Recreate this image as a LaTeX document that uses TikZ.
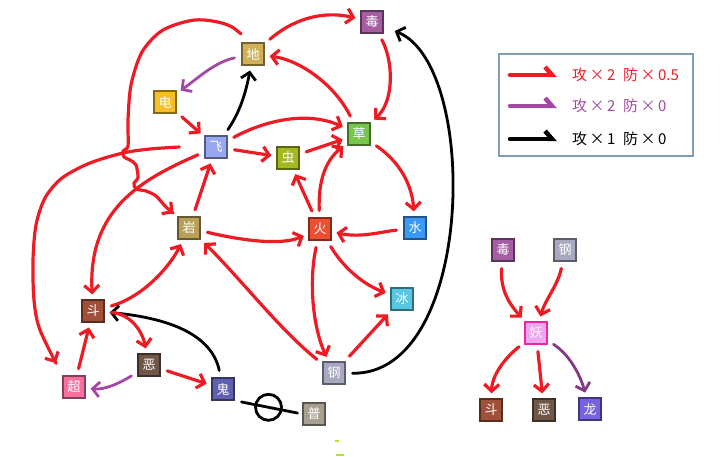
\documentclass[tikz,border=0pt]{standalone}
\usepackage{fontspec}
\newfontfamily\cjk{Noto Sans CJK SC}
\usetikzlibrary{arrows.meta}

\definecolor{hit}{HTML}{ED1C24}
\definecolor{nul}{HTML}{A349A4}
\definecolor{keyline}{HTML}{7F9DB9}
\definecolor{speck}{HTML}{B5E61D}
\definecolor{tPoison}{HTML}{A65EA3}
\definecolor{tGround}{HTML}{D1B158}
\definecolor{tElec}{HTML}{F7BE2C}
\definecolor{tFly}{HTML}{98A8F0}
\definecolor{tBug}{HTML}{A6B820}
\definecolor{tGrass}{HTML}{78C64C}
\definecolor{tRock}{HTML}{B8A058}
\definecolor{tFire}{HTML}{EE4F30}
\definecolor{tWater}{HTML}{3A99F7}
\definecolor{tIce}{HTML}{5AC7E0}
\definecolor{tSteel}{HTML}{A8A8C0}
\definecolor{tNormal}{HTML}{A8A090}
\definecolor{tFight}{HTML}{A05038}
\definecolor{tDark}{HTML}{705848}
\definecolor{tPsy}{HTML}{F8709F}
\definecolor{tGhost}{HTML}{6060B0}
\definecolor{tFairy}{HTML}{F0A6F0}
\definecolor{tDragon}{HTML}{7862E0}

\tikzset{
	kind/.style={draw=#1!55!black, fill=#1, line width=1.2pt, minimum size=22pt,
		inner sep=0pt, text=white, font=\cjk\fontsize{13}{13}\selectfont},
	strong/.style={draw=hit, line width=3.2pt, line cap=round, line join=round,
		-{Straight Barb[length=7pt,width=15pt]}, shorten <=7pt, shorten >=5pt},
	immune/.style={strong, draw=nul, line width=2.8pt},
	blank/.style={strong, draw=black, line width=2.8pt},
	keytext/.style={anchor=west, inner sep=0pt, font=\cjk\fontsize{15}{15}\selectfont},
}

\begin{document}
\begin{tikzpicture}[x=1pt,y=-1pt]
		\useasboundingbox (0,0) rectangle (725,457);
		% types
		\node[kind=tPoison] (du) at (372,22) {毒};
		\node[kind=tGround] (di) at (253,54) {地};
		\node[kind=tElec] (dian) at (165,102) {电};
		\node[kind=tFly] (fei) at (216,147) {飞};
		\node[kind=tBug] (chong) at (288,158) {虫};
		\node[kind=tGrass] (cao) at (359,134) {草};
		\node[kind=tRock] (yan) at (189,228) {岩};
		\node[kind=tFire] (huo) at (320,229) {火};
		\node[kind=tWater] (shui) at (415,228) {水};
		\node[kind=tIce] (bing) at (402,299) {冰};
		\node[kind=tSteel] (gang) at (334,373) {钢};
		\node[kind=tNormal] (pu) at (314,414) {普};
		\node[kind=tFight] (dou) at (93,311) {斗};
		\node[kind=tDark] (e) at (149,365) {恶};
		\node[kind=tPsy] (chao) at (74,387) {超};
		\node[kind=tGhost] (gui) at (223,389) {鬼};
		% fairy
		\node[kind=tPoison] (du2) at (503,250) {毒};
		\node[kind=tSteel] (gang2) at (565,250) {钢};
		\node[kind=tFairy, draw=magenta!85!white] (yao) at (536,333) {妖};
		\node[kind=tFight] (dou2) at (491,410) {斗};
		\node[kind=tDark] (e2) at (544,410) {恶};
		\node[kind=tDragon] (long) at (590,409) {龙};

		% upper ring
		\draw[strong] (di) .. controls (292,20) and (322,10) .. (du);
		\draw[strong] (du) .. controls (393,60) and (395,100) .. (cao);
		\draw[strong] (cao) .. controls (335,85) and (300,60) .. (di);
		\draw[immune] (di) .. controls (215,62) and (198,78) .. (dian);
		\draw[strong] (dian) -- (fei);
		\draw[blank] (fei) .. controls (240,112) and (246,92) .. (di);
		\draw[strong] (fei) .. controls (262,122) and (305,110) .. (cao);
		\draw[strong] (fei) -- (chong);
		\draw[strong] (chong) -- (cao);
		\draw[strong] (huo) .. controls (318,180) and (326,160) .. (cao);
		\draw[strong] (huo) -- (chong);
		\draw[strong] (cao) .. controls (400,162) and (412,185) .. (shui);
		\draw[strong] (shui) .. controls (380,232) and (360,238) .. (huo);
		\draw[strong] (yan) .. controls (240,240) and (280,246) .. (huo);
		\draw[strong] (yan) -- (fei);
		\draw[strong] (huo) .. controls (345,270) and (365,285) .. (bing);
		\draw[strong] (huo) .. controls (308,285) and (314,330) .. (gang);
		\draw[strong] (gang) -- (bing);
		\draw[strong] (gang) .. controls (280,330) and (240,278) .. (yan);
		\draw[blank, shorten >=12pt] (gang) .. controls (475,375) and (480,65) .. (du);

		% left side
		\draw[strong] plot[smooth] coordinates {([xshift=5pt,yshift=4pt]di.north west) (225,24) (195,20) (163,30)
			(142,52) (131,85) (128,120) (128,146) (123,151) (124,157) (130,160) (136,165)
			(138,178) (134,183) (136,189) (146,191) (156,196) (166,207) (yan.north west)};
		\draw[strong, shorten <=0pt, shorten >=14pt] plot[smooth] coordinates {([xshift=-25pt]fei.west)
			(150,149) (123,153) (90,163) (62,178) (45,198) (36,225) (33,260) (34,300)
			(40,330) (chao.north west)};
		\draw[strong] (fei) .. controls (140,180) and (88,210) .. (dou);
		\draw[strong] (dou) .. controls (140,298) and (168,270) .. (yan);
		\draw[blank] (gui) .. controls (212,335) and (170,318) .. (dou);
		\draw[strong] (dou) .. controls (130,314) and (142,330) .. (e);
		\draw[immune] (e) .. controls (120,383) and (105,390) .. (chao);
		\draw[strong] (e) -- (gui);
		\draw[strong] (chao) -- (dou);
		\draw[blank, -] (gui.south east) -- node[circle, draw=black, line width=2.8pt,
			minimum size=26pt, inner sep=0pt] (ban) {} (pu.west);

		% fairy arrows
		\draw[strong] (du2) .. controls (500,290) and (510,305) .. (yao);
		\draw[strong] (gang2) .. controls (558,285) and (545,300) .. (yao);
		\draw[strong] (yao) .. controls (505,358) and (492,375) .. (dou2);
		\draw[strong] (yao) -- (e2);
		\draw[immune, draw=nul!80!black] (yao) .. controls (570,355) and (580,375) .. (long);

		% key
		\draw[keyline, line width=1.5pt] (499,54) rectangle (693,156);
		\node[keytext, text=hit] (k1) at (572,75) {攻\,×\,2\enspace 防\,×\,0.5};
		\node[keytext, text=nul] (k2) at (572,106) {攻\,×\,2\enspace 防\,×\,0};
		\node[keytext, text=black] (k3) at (572,139) {攻\,×\,1\enspace 防\,×\,0};
		\coordinate (s1) at (510,75);
		\coordinate (s2) at (510,106);
		\coordinate (s3) at (510,139);
		\draw[strong, line width=4.5pt, shorten <=0pt, shorten >=15pt,
			-{Straight Barb[harpoon,length=7pt,width=16pt]}] (s1) -- (k1.west);
		\draw[immune, line width=4.5pt, shorten <=0pt, shorten >=15pt,
			-{Straight Barb[harpoon,length=7pt,width=16pt]}] (s2) -- (k2.west);
		\draw[blank, line width=4.5pt, shorten <=0pt, shorten >=15pt,
			-{Straight Barb[harpoon,length=7pt,width=16pt]}] (s3) -- (k3.west);

		% stray marks
		\draw[speck, line width=1.5pt] (335,441) -- (339,441);
		\draw[speck, line width=2pt] (336,455) -- (344,455);
\end{tikzpicture}
\end{document}
